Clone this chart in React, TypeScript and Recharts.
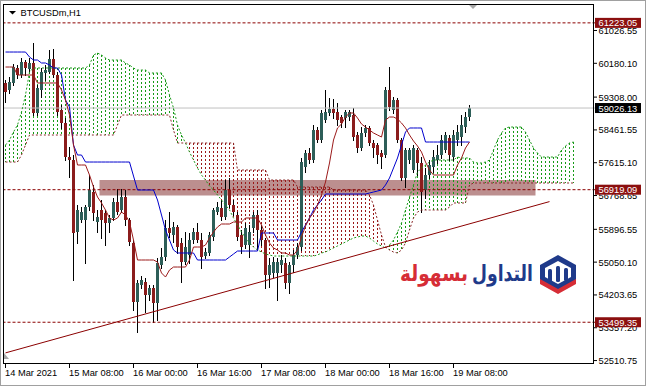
import React from 'react';
import {
  ComposedChart,
  Bar,
  Line,
  XAxis,
  YAxis,
  ReferenceLine,
  ReferenceArea,
} from 'recharts';

// ---- BTCUSDm H1, bar 0 = 14 Mar 2021 16:00 ----
const timeLabels = [
  '14 Mar 2021',
  '15 Mar 08:00',
  '16 Mar 00:00',
  '16 Mar 16:00',
  '17 Mar 08:00',
  '18 Mar 00:00',
  '18 Mar 16:00',
  '19 Mar 08:00',
];
const LABEL_STEP = 16;

const priceTicks = [
  61026.55, 60180.1, 59308.0, 58461.55, 57615.1, 56768.65, 55896.55, 55050.1,
  54203.65, 53357.2, 52510.75,
];
const markedLevels = [61223.05, 56919.09, 53499.35];
const bidPrice = 59026.13;
const zoneLow = 56770;
const zoneHigh = 57170;
const zoneFromBar = 24;
const zoneToBar = 132;
const trendStart = { bar: 0, price: 52709 };
const trendEnd = { bar: 136, price: 56612 };

const opens = [
  59672, 59491, 59672, 60059, 59878, 60213, 60033, 60188, 58898, 59491, 59930,
  59955, 60291, 59878, 58975, 58640, 57762, 57685, 55827, 56137, 56137, 56472,
  56859, 56085, 56395, 56318, 56060, 56189, 56601, 56395, 56730, 56137, 55544,
  54021, 54460, 54537, 54202, 54383, 53996, 54976, 55182, 55931, 55750, 55956,
  55544, 55053, 55234, 55621, 55827, 55621, 55208, 55286, 55698, 56343, 56447,
  56214, 56911, 56524, 56266, 55750, 55492, 55492, 55931, 56266, 55879, 55621,
  54718, 54770, 54770, 54976, 55028, 54512, 54976, 55234, 55440, 57504, 57866,
  57685, 58459, 58201, 58717, 58898, 59001, 58923, 58794, 58769, 58794, 58846,
  58330, 57995, 58382, 58511, 58124, 58072, 57866, 57814, 59491, 58975, 59233,
  58201, 57221, 57685, 57427, 57943, 57608, 56911, 57298, 57504, 57685, 57814,
  57943, 58253, 57762, 58201, 58278, 58536, 58794,
];
const highs = [
  59749, 59826, 60162, 60136, 60317, 60265, 60317, 60704, 59620, 60059, 60136,
  60523, 60549, 59955, 59104, 58769, 58020, 57814, 56524, 56472, 56524, 57298,
  57040, 56395, 56653, 56395, 56266, 56705, 56937, 56937, 56911, 56189, 55621,
  54589, 54692, 54641, 54460, 54460, 55157, 55415, 56137, 56343, 56085, 56008,
  55673, 55827, 55802, 55931, 56060, 55802, 55415, 55827, 56447, 56601, 56653,
  57169, 57221, 56653, 56343, 55879, 56060, 56008, 56343, 56395, 56008, 55673,
  55157, 55182, 55157, 55234, 55157, 55053, 55363, 55544, 57737, 57943, 57995,
  58588, 58536, 58975, 59491, 59285, 59259, 59156, 58846, 58975, 58975, 59027,
  58407, 58536, 58588, 58562, 58201, 58124, 57943, 59568, 60084, 59310, 59285,
  58253, 57995, 57995, 58072, 57995, 57762, 57479, 57685, 57943, 58072, 58330,
  58407, 58330, 58459, 58588, 58846, 58923, 59104,
];
const lows = [
  59181, 59414, 59620, 59801, 59826, 59878, 59955, 58846, 58846, 59310, 59749,
  59930, 59826, 58846, 58511, 57685, 57246, 54589, 55544, 56085, 55028, 56395,
  56137, 55827, 55673, 55492, 55827, 56137, 56292, 56343, 56008, 55492, 53815,
  53247, 54383, 53763, 54073, 53505, 53557, 54899, 55105, 55698, 55569, 55286,
  54537, 55002, 55028, 55544, 55569, 54899, 55157, 55234, 55621, 56292, 56137,
  56163, 56472, 56266, 55621, 55286, 55415, 55182, 55827, 55363, 55492, 54383,
  54408, 54666, 54073, 54795, 54383, 54254, 54795, 55157, 55363, 57375, 57608,
  57633, 58149, 58149, 58665, 58846, 58769, 58588, 58536, 58536, 58717, 58201,
  57891, 57943, 58304, 58072, 57762, 57608, 57479, 57762, 58975, 58898, 58149,
  57169, 56988, 57608, 57375, 57298, 56343, 56705, 57221, 57375, 57608, 57737,
  57891, 57685, 57685, 58072, 58072, 58407, 58717,
];
const closes = [
  59439, 59697, 60084, 59878, 60213, 60059, 60188, 58898, 59543, 59955, 60007,
  60291, 59878, 58923, 58640, 57762, 57685, 55802, 56395, 56343, 56472, 56911,
  56318, 56214, 56137, 56060, 56189, 56601, 56343, 56730, 56137, 55569, 54021,
  54512, 54589, 54202, 54383, 53996, 55028, 55182, 55931, 55802, 55956, 55440,
  55053, 55440, 55621, 55827, 55621, 55182, 55311, 55750, 56395, 56472, 56214,
  56911, 56524, 56343, 55698, 55440, 55931, 55827, 56266, 55879, 55621, 54718,
  54976, 55053, 55053, 55105, 54512, 54976, 55234, 55440, 57633, 57866, 57685,
  58459, 58201, 58898, 58923, 59001, 58898, 58717, 58640, 58923, 58923, 58278,
  57995, 58382, 58511, 58124, 57995, 57814, 57762, 59491, 59052, 59233, 58201,
  57221, 57943, 57943, 57995, 57608, 56859, 57298, 57556, 57762, 57814, 58201,
  58330, 57814, 58330, 58407, 58588, 58794, 59026.13,
];

// Tenkan-sen (9) and Kijun-sen (26)
const tenkan = [
  60084, 60084, 60084, 59878, 59878, 59878, 59878, 59878, 59672, 59672, 59672,
  59672, 59672, 59672, 59491, 59233, 58846, 58072, 57556, 57556, 57556, 57298,
  56988, 56730, 56576, 56395, 56189, 56137, 56189, 56343, 56266, 56085, 55621,
  55105, 55105, 55105, 55105, 55105, 55053, 54770, 54666, 54847, 54924, 54924,
  54924, 54924, 55105, 55440, 55440, 55440, 55492, 55673, 55827, 55956, 56034,
  56034, 56034, 56085, 56085, 56085, 56189, 56189, 56189, 56189, 56008, 55750,
  55544, 55415, 55363, 55286, 55286, 55234, 55234, 55363, 55698, 55982, 56189,
  56318, 56524, 56782, 57117, 57608, 58201, 58511, 58614, 58794, 58898, 58898,
  58769, 58614, 58536, 58459, 58382, 58330, 58278, 58717, 58794, 58794, 58743,
  58640, 58511, 58330, 58175, 58046, 57891, 57633, 57427, 57298, 57298, 57298,
  57298, 57298, 57298, 57556, 57737, 57995, 58149,
];
const kijun = [
  60471, 60471, 60471, 60471, 60471, 60471, 60342, 60265, 60265, 60188, 60188,
  60136, 60059, 60059, 59878, 59233, 59052, 58072, 57814, 57814, 57633, 57633,
  57633, 57633, 57633, 57633, 57633, 57633, 57633, 57633, 57633, 57633, 57272,
  56911, 56911, 56911, 56911, 56911, 56653, 56266, 55879, 55621, 55363, 55286,
  55286, 55286, 55286, 55286, 55105, 55105, 55105, 55105, 55105, 55105, 55105,
  55105, 55182, 55260, 55337, 55337, 55337, 55337, 55337, 55337, 55802, 55802,
  55802, 55802, 55621, 55621, 55621, 55621, 55621, 55621, 55827, 56008, 56189,
  56395, 56524, 56653, 56808, 56808, 56808, 56808, 56808, 56808, 56808, 56808,
  56808, 56808, 56808, 56834, 56859, 56885, 56911, 57040, 57221, 57479, 57737,
  58072, 58407, 58511, 58511, 58511, 58511, 58149, 58149, 58149, 58149, 58149,
  58149, 58149, 58149, 58149, 58149, 58149, 58149,
];

// Senkou spans, already shifted 26 bars ahead
const spanA = [
  58072, 58201, 58407, 58588, 58923, 59362, 59955, 60059, 60059, 60059, 60059,
  60059, 60059, 60059, 60059, 60059, 60059, 60059, 60059, 60059, 60059, 60136,
  60394, 60446, 60394, 60317, 60265, 60265, 60265, 60265, 60188, 60136, 60059,
  60007, 60007, 60007, 59930, 59930, 59930, 59930, 59749, 59362, 59027, 58588,
  58330, 58124, 57891, 57685, 57479, 57298, 57169, 57014, 56911, 56782, 56653,
  56524, 56395, 56189, 56008, 55827, 55673, 55544, 55440, 55363, 55311, 55260,
  55234, 55208, 55208, 55208, 55208, 55208, 55208, 55208, 55208, 55208, 55208,
  55208, 55234, 55286, 55311, 55363, 55415, 55466, 55518, 55569, 55621, 55673,
  55698, 55724, 55724, 55673, 55595, 55518, 55466, 55415, 55492, 55621, 55827,
  56060, 56395, 56730, 57040, 57375, 57479, 57556, 57633, 57685, 57685, 57685,
  57685, 57685, 57685, 57762, 57737, 57737, 57737, 57633, 57608, 57608, 57633,
  57685, 57943, 58201, 58382, 58511, 58536, 58536, 58536, 58536, 58407, 58201,
  57995, 57866, 57762, 57762, 57762, 57762, 57762, 57943, 58046, 58124, 58149,
];
const spanB = [
  57633, 57633, 57633, 57633, 57814, 58072, 58330, 58330, 58330, 58330, 58330,
  58330, 58330, 58330, 58330, 58330, 58330, 58330, 58330, 58330, 58330, 58330,
  58330, 58330, 58330, 58330, 58330, 58330, 58588, 58846, 58846, 58846, 58846,
  58846, 58846, 58846, 58846, 58846, 58846, 58846, 58846, 58846, 58459, 58124,
  58124, 58124, 58124, 58124, 58124, 58124, 58124, 58124, 58124, 58124, 58124,
  58124, 58124, 58124, 57427, 57427, 57427, 57427, 57427, 57427, 57427, 57427,
  57169, 57169, 57169, 57169, 57169, 57169, 57169, 56988, 56988, 56988, 56988,
  56988, 56988, 56988, 56988, 56988, 56911, 56911, 56911, 56911, 56911, 56911,
  56911, 56911, 56911, 56782, 56524, 56137, 55750, 55440, 55363, 55311, 55286,
  55363, 55544, 55879, 56189, 56343, 56395, 56395, 56395, 56395, 56395, 56395,
  56395, 56472, 56576, 56576, 56576, 56576, 57040, 57092, 57092, 57092, 57092,
  57092, 57092, 57092, 57092, 57092, 57092, 57092, 57092, 57092, 57092, 57092,
  57092, 57092, 57092, 57092, 57092, 57092, 57092, 57092, 57092, 57092, 57092,
];

const SLOT_COUNT = 148;
const Y_DOMAIN: [number, number] = [52422, 61710];

// Each slot carries the candle and the cloud column; the bar's value is the
// envelope of both so one band-positioned shape can draw them together.
const rows = Array.from({ length: SLOT_COUNT }, (_, i) => {
  const has = i < closes.length;
  const a = i < spanA.length ? spanA[i] : null;
  const b = i < spanB.length ? spanB[i] : null;
  const vals: number[] = [];
  if (has) vals.push(lows[i], highs[i]);
  if (a != null && b != null) vals.push(a, b);
  return {
    i,
    envelope: vals.length ? [Math.min(...vals), Math.max(...vals)] : null,
    o: has ? opens[i] : null,
    h: has ? highs[i] : null,
    l: has ? lows[i] : null,
    c: has ? closes[i] : null,
    tenkan: has ? tenkan[i] : null,
    kijun: has ? kijun[i] : null,
    spanA: a,
    spanB: b,
  };
});

const FONT = '"Liberation Sans", Arial, sans-serif';
const BULL = '#2d5e58';
const BEAR = '#8b1c1c';
const LEVEL_RED = '#8b0000';
const KUMO_UP = '#169a16';
const KUMO_DOWN = '#9a1818';

const SlotShape = (props: any) => {
  const { x, y, width, height, payload } = props;
  if (!payload || !payload.envelope) return null;
  const [lo, hi] = payload.envelope as [number, number];
  const top = Math.min(y, y + height);
  const bottom = Math.max(y, y + height);
  const span = hi - lo || 1;
  const toY = (v: number) => top + ((hi - v) / span) * (bottom - top);
  const cx = x + width / 2;
  const { o, h, l, c, spanA: a, spanB: b } = payload;

  let cloud = null;
  if (a != null && b != null && a !== b) {
    const y1 = Math.round(toY(Math.max(a, b)));
    const y2 = Math.round(toY(Math.min(a, b)));
    cloud = (
      <line
        x1={cx}
        x2={cx}
        y1={y1}
        y2={y2}
        stroke={a > b ? KUMO_UP : KUMO_DOWN}
        strokeWidth={1}
        strokeDasharray="2 2"
        shapeRendering="crispEdges"
      />
    );
  }

  let candle = null;
  if (o != null) {
    const bt = Math.round(toY(Math.max(o, c)));
    const bb = Math.max(Math.round(toY(Math.min(o, c))), bt + 1);
    candle = (
      <g>
        <line
          x1={cx}
          x2={cx}
          y1={Math.round(toY(h))}
          y2={Math.round(toY(l)) + 1}
          stroke="#000"
          strokeWidth={1}
          shapeRendering="crispEdges"
        />
        <rect
          x={cx - 1.5}
          y={bt}
          width={3}
          height={bb - bt}
          fill={c >= o ? BULL : BEAR}
          shapeRendering="crispEdges"
        />
      </g>
    );
  }
  return (
    <g>
      {cloud}
      {candle}
    </g>
  );
};

const PriceTick = (props: any) => {
  const { x, y, payload } = props;
  const v = payload.value as number;
  const label = v.toFixed(2);
  if (markedLevels.includes(v) || v === bidPrice) {
    const bg = v === bidPrice ? '#000' : '#8b0f0f';
    return (
      <g>
        <rect x={x - 0.5} y={y - 5} width={46} height={10} fill={bg} />
        <text x={x + 3} y={y + 3.5} fill="#fff" fontSize={9.3} fontFamily={FONT}>
          {label}
        </text>
      </g>
    );
  }
  return (
    <g>
      <line x1={x - 2.5} x2={x + 1.5} y1={y} y2={y} stroke="#000" strokeWidth={1} />
      <text x={x + 3} y={y + 3.5} fill="#000" fontSize={9.3} fontFamily={FONT}>
        {label}
      </text>
    </g>
  );
};

const TimeTick = (props: any) => {
  const { x, y, payload } = props;
  const v = payload.value as number;
  const k = v / LABEL_STEP;
  if (v % LABEL_STEP !== 0 || k >= timeLabels.length) return <g />;
  return (
    <g>
      <line x1={x} x2={x} y1={y - 1} y2={y + 4} stroke="#000" strokeWidth={1} />
      <text x={x - 0.5} y={y + 12} fill="#000" fontSize={9.3} fontFamily={FONT}>
        {timeLabels[k]}
      </text>
    </g>
  );
};

export default function App() {
  return (
    <div
      style={{
        position: 'absolute',
        left: 0,
        top: 0,
        width: 646,
        height: 386,
        background: '#fff',
        overflow: 'hidden',
      }}
    >
      <ComposedChart
        width={646}
        height={386}
        data={rows}
        margin={{ top: 4, right: 0, bottom: 0, left: 3.5 }}
        barCategoryGap={0}
        barGap={0}
      >
        <XAxis
          dataKey="i"
          type="category"
          interval={0}
          height={22}
          axisLine={false}
          tickLine={false}
          tickSize={0}
          tickMargin={0}
          tick={<TimeTick />}
        />
        <YAxis
          orientation="right"
          type="number"
          domain={Y_DOMAIN}
          allowDataOverflow
          ticks={[...priceTicks, bidPrice, ...markedLevels]}
          interval={0}
          width={50.5}
          axisLine={false}
          tickLine={false}
          tickSize={0}
          tickMargin={0}
          tick={<PriceTick />}
        />
        <ReferenceArea
          x1={zoneFromBar}
          x2={zoneToBar}
          y1={zoneLow}
          y2={zoneHigh}
          fill="#bc8f8f"
          fillOpacity={1}
          stroke="none"
        />
        <ReferenceLine y={bidPrice} stroke="#c0c0c0" strokeWidth={1} />
        {markedLevels.map((lv) => (
          <ReferenceLine
            key={lv}
            y={lv}
            stroke={LEVEL_RED}
            strokeWidth={1}
            strokeDasharray="3 2"
          />
        ))}
        <Bar dataKey="envelope" shape={<SlotShape />} isAnimationActive={false} />
        <Line
          dataKey="spanA"
          type="linear"
          stroke="#1f9a1f"
          strokeWidth={1}
          strokeDasharray="2 2"
          dot={false}
          activeDot={false}
          isAnimationActive={false}
        />
        <Line
          dataKey="spanB"
          type="linear"
          stroke="#8b2a2a"
          strokeWidth={1}
          strokeDasharray="2 2"
          dot={false}
          activeDot={false}
          isAnimationActive={false}
        />
        <ReferenceLine
          segment={[
            { x: trendStart.bar, y: trendStart.price },
            { x: trendEnd.bar, y: trendEnd.price },
          ]}
          stroke={LEVEL_RED}
          strokeWidth={1}
        />
        <Line
          dataKey="kijun"
          type="linear"
          stroke="#0000cd"
          strokeWidth={1}
          dot={false}
          activeDot={false}
          isAnimationActive={false}
        />
        <Line
          dataKey="tenkan"
          type="linear"
          stroke="#9b1b1b"
          strokeWidth={1}
          dot={false}
          activeDot={false}
          isAnimationActive={false}
        />
      </ComposedChart>

      <svg
        width={646}
        height={386}
        style={{ position: 'absolute', left: 0, top: 0, pointerEvents: 'none' }}
      >
        {/* window and plot frames */}
        <rect x={0.5} y={0.5} width={645} height={385} fill="none" stroke="#a0a0a0" />
        <rect x={3.5} y={4.5} width={590} height={359} fill="none" stroke="#000" />
        {/* symbol caption */}
        <polygon points="9,11 16,11 12.5,14.5" fill="#000" />
        <text x={20.5} y={16} fontSize={9.3} fontFamily={FONT} fill="#000">
          BTCUSDm,H1
        </text>
        {/* chart shift marker */}
        <polygon points="469,5 477,5 473,9" fill="#a8a8a8" />
        <polygon points="4,353 4,359 9,359" fill="#a8a8a8" />
        {/* brand mark */}
        <text
          x={533}
          y={281}
          textAnchor="end"
          fontFamily='"DejaVu Sans", sans-serif'
          fontWeight="bold"
          fontSize={22}
          fill="#1f3a8a"
          textLength={61}
          lengthAdjust="spacingAndGlyphs"
        >
          التداول
        </text>
        <text
          x={468}
          y={281}
          textAnchor="end"
          fontFamily='"DejaVu Sans", sans-serif'
          fontWeight="bold"
          fontSize={22}
          fill="#d62d36"
          textLength={68}
          lengthAdjust="spacingAndGlyphs"
        >
          بسهولة
        </text>
        <g>
          <path d="M558 255 L576 265 L576 280 L558 290 L540 280 L540 265 Z" fill="#1f3a8a" />
          <path d="M545 268 L558 261 L571 268 L571 277 L558 284 L545 277 Z" fill="#fff" />
          <rect x={548} y={269} width={4} height={13} rx={1.5} fill="#1f3a8a" />
          <rect x={556} y={266} width={4} height={16} rx={1.5} fill="#1f3a8a" />
          <rect x={564} y={268} width={4} height={13} rx={1.5} fill="#1f3a8a" />
          <path d="M540 279 L558 289 L576 279 L576 284 L558 294 L540 284 Z" fill="#d62d36" />
        </g>
      </svg>
    </div>
  );
}
